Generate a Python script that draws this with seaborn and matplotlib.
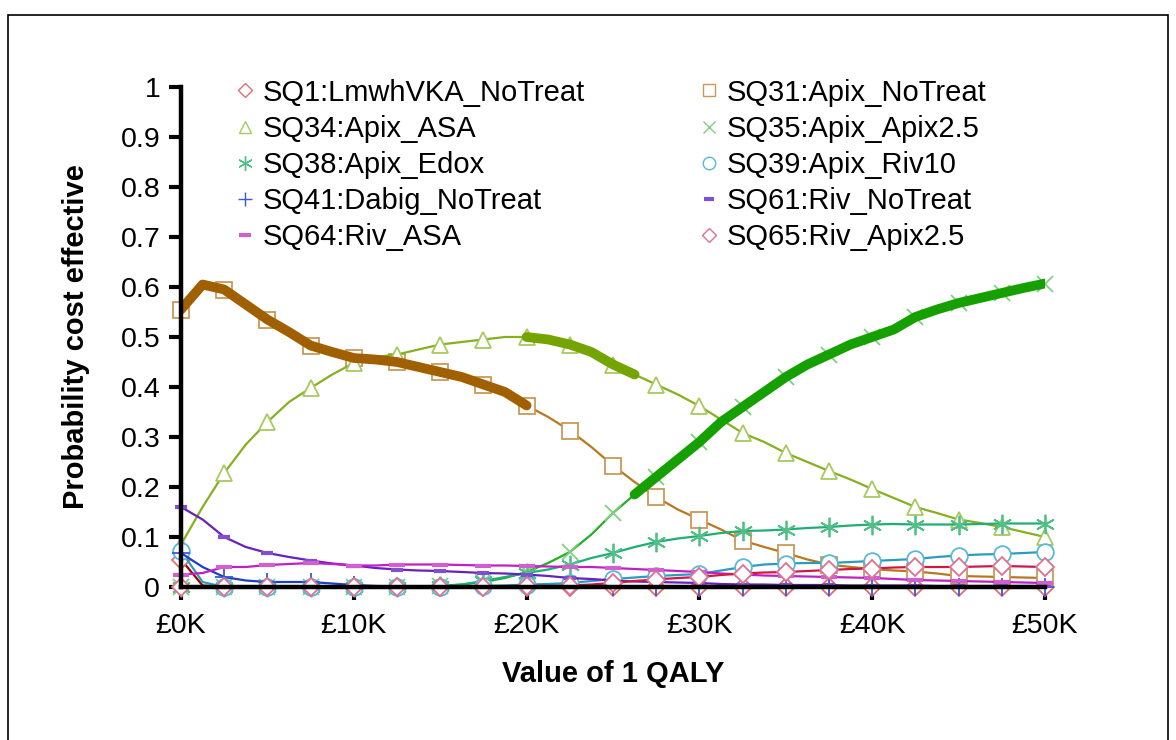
import numpy as np
import pandas as pd
import matplotlib
matplotlib.use("Agg")
import matplotlib.pyplot as plt
import matplotlib.patches as patches
from matplotlib.lines import Line2D
import seaborn as sns

# willingness-to-pay grid (in £K), 1.25K steps; markers drawn every 2.5K
wtp_k = [i * 1.25 for i in range(41)]

sq1 = [0.055, 0.003] + [0.0] * 39

sq31 = [0.555, 0.605, 0.595, 0.565, 0.535, 0.51, 0.483, 0.47, 0.458, 0.455,
        0.45, 0.44, 0.43, 0.42, 0.405, 0.39, 0.363, 0.34, 0.313, 0.28,
        0.243, 0.21, 0.18, 0.155, 0.135, 0.115, 0.093, 0.08, 0.068, 0.055,
        0.045, 0.04, 0.036, 0.033, 0.031, 0.027, 0.022, 0.021, 0.02, 0.019, 0.018]

sq34 = [0.085, 0.16, 0.228, 0.285, 0.33, 0.37, 0.398, 0.425, 0.448, 0.46,
        0.465, 0.475, 0.485, 0.49, 0.495, 0.5, 0.5, 0.495, 0.485, 0.47,
        0.445, 0.425, 0.405, 0.385, 0.362, 0.335, 0.308, 0.29, 0.268, 0.25,
        0.232, 0.215, 0.196, 0.178, 0.16, 0.148, 0.135, 0.128, 0.12, 0.11, 0.1]

sq35 = [0.0] * 11 + [0.001, 0.002, 0.005, 0.01, 0.018, 0.03, 0.048, 0.07,
        0.105, 0.148, 0.185, 0.22, 0.255, 0.29, 0.33, 0.36, 0.39, 0.42,
        0.445, 0.465, 0.485, 0.5, 0.515, 0.54, 0.555, 0.568, 0.578, 0.588,
        0.598, 0.607]

sq38 = [0.0] * 11 + [0.001, 0.002, 0.005, 0.012, 0.02, 0.028, 0.035, 0.045,
        0.058, 0.068, 0.08, 0.09, 0.097, 0.102, 0.108, 0.112, 0.113, 0.115,
        0.118, 0.12, 0.123, 0.125, 0.126, 0.125, 0.125, 0.125, 0.126, 0.127,
        0.127, 0.127]

sq39 = [0.072, 0.01] + [0.0] * 11 + [0.001, 0.002, 0.003, 0.005, 0.006,
        0.008, 0.012, 0.016, 0.019, 0.022, 0.024, 0.026, 0.033, 0.04, 0.045,
        0.047, 0.048, 0.048, 0.05, 0.052, 0.054, 0.056, 0.06, 0.063, 0.065,
        0.066, 0.068, 0.07]

sq41 = [0.068, 0.04, 0.02, 0.013, 0.01, 0.01, 0.01, 0.007, 0.004, 0.002,
        0.001] + [0.0] * 30

sq61 = [0.16, 0.135, 0.1, 0.08, 0.068, 0.06, 0.053, 0.047, 0.043, 0.038,
        0.035, 0.033, 0.032, 0.03, 0.028, 0.027, 0.025, 0.022, 0.018, 0.016,
        0.013, 0.011, 0.01, 0.009, 0.008, 0.006, 0.005, 0.005, 0.004, 0.004,
        0.004, 0.003, 0.003, 0.003, 0.003, 0.002, 0.002, 0.002, 0.002, 0.002,
        0.002]

sq64 = [0.025, 0.028, 0.04, 0.04, 0.044, 0.046, 0.048, 0.046, 0.043, 0.043,
        0.045, 0.045, 0.045, 0.044, 0.043, 0.043, 0.042, 0.041, 0.04, 0.04,
        0.038, 0.036, 0.034, 0.032, 0.03, 0.027, 0.025, 0.023, 0.022, 0.021,
        0.02, 0.019, 0.018, 0.016, 0.014, 0.013, 0.012, 0.011, 0.01, 0.009,
        0.008]

sq65 = [0.0] * 16 + [0.002, 0.002, 0.003, 0.005, 0.008, 0.012, 0.015, 0.018,
        0.02, 0.024, 0.027, 0.029, 0.03, 0.032, 0.034, 0.036, 0.037, 0.039,
        0.04, 0.04, 0.04, 0.041, 0.042, 0.041, 0.04]

# optimal strategy (frontier) by range of WTP, £K
frontier = [("SQ31:Apix_NoTreat", 0, 20), ("SQ34:Apix_ASA", 20, 26.25),
            ("SQ35:Apix_Apix2.5", 26.25, 50)]

# name, values, line colour, marker, marker colour, marker size
series = [
    ("SQ1:LmwhVKA_NoTreat", sq1, "#a00000", "D", "#e07070", 9),
    ("SQ31:Apix_NoTreat", sq31, "#b8781e", "s", "#c89a58", 11),
    ("SQ34:Apix_ASA", sq34, "#86b020", "^", "#a8c860", 12),
    ("SQ35:Apix_Apix2.5", sq35, "#22b022", "x", "#80d080", 11),
    ("SQ38:Apix_Edox", sq38, "#1fae74", (6, 2, 0), "#50c088", 14),
    ("SQ39:Apix_Riv10", sq39, "#2a9cc0", "o", "#5ab8d8", 12),
    ("SQ41:Dabig_NoTreat", sq41, "#1f3fc0", "+", "#3858e0", 13),
    ("SQ61:Riv_NoTreat", sq61, "#6a1fc0", "_", "#8050d0", 9),
    ("SQ64:Riv_ASA", sq64, "#c21fc2", "_", "#d060d0", 11),
    ("SQ65:Riv_Apix2.5", sq65, "#d01848", "D", "#e07090", 9),
]
thick_colors = {"SQ31:Apix_NoTreat": "#a06000",
                "SQ34:Apix_ASA": "#74a400",
                "SQ35:Apix_Apix2.5": "#15a000"}

sns.set_theme(style="white")
plt.rcParams["font.family"] = ["Liberation Sans", "DejaVu Sans"]
plt.rcParams["text.color"] = "black"
plt.rcParams["axes.labelcolor"] = "black"

fig = plt.figure(figsize=(11.76, 7.4), dpi=100)
ax = fig.add_axes([181 / 1176, 1 - 587 / 740, 864 / 1176, 500 / 740])

df = pd.DataFrame({"wtp": wtp_k})
for name, vals, lc, mk, mc, ms in series:
    df[name] = vals

for name, vals, lc, mk, mc, ms in series:
    mew = 3 if mk == "_" else 1.3
    sns.lineplot(data=df, x="wtp", y=name, ax=ax, color=lc, linewidth=1.6,
                 marker=mk, markevery=2, markersize=ms, markerfacecolor="white"
                 if mk not in ("_", "x", "+", (6, 2, 0)) else mc,
                 markeredgecolor=mc, markeredgewidth=mew, clip_on=False,
                 zorder=3)

# thick line for the strategy with highest expected net benefit
for name, x0, x1 in frontier:
    sub = df[(df["wtp"] >= x0) & (df["wtp"] <= x1)]
    sns.lineplot(data=sub, x="wtp", y=name, ax=ax, color=thick_colors[name],
                 linewidth=7, solid_capstyle="round", zorder=4)

ax.set_xlim(0, 50)
ax.set_ylim(0, 1)
ax.set_xticks([0, 10, 20, 30, 40, 50])
ax.set_xticklabels(["£0K", "£10K", "£20K", "£30K", "£40K", "£50K"])
ax.set_yticks(np.arange(0, 1.01, 0.1))
ax.set_yticklabels(["0", "0.1", "0.2", "0.3", "0.4", "0.5", "0.6", "0.7",
                    "0.8", "0.9", "1"])
ax.tick_params(axis="both", direction="out", length=9, width=3, color="black",
               labelsize=20.5, labelcolor="black")
ax.tick_params(axis="x", pad=10)
ax.tick_params(axis="y", pad=6)
ax.xaxis.set_ticks_position("bottom")
ax.yaxis.set_ticks_position("left")
for side in ["top", "right"]:
    ax.spines[side].set_visible(False)
for side in ["left", "bottom"]:
    ax.spines[side].set_color("black")
    ax.spines[side].set_linewidth(3.2)
    ax.spines[side].set_zorder(5)

ax.set_xlabel("Value of 1 QALY", fontsize=21, fontweight="bold", labelpad=15)
ax.set_ylabel("Probability cost effective", fontsize=21, fontweight="bold",
              labelpad=22)

# legend filled row-wise like the original
order = [0, 2, 4, 6, 8, 1, 3, 5, 7, 9]
handles = []
for i in order:
    name, vals, lc, mk, mc, ms = series[i]
    handles.append(Line2D([], [], linestyle="none", marker=mk, markersize=ms * 0.75,
                          markerfacecolor="white" if mk in ("D", "s", "^", "o") else mc,
                          markeredgecolor=mc,
                          markeredgewidth=3 if mk == "_" else 1.0, label=name))
leg = ax.legend(handles=handles, ncol=2, loc="upper left",
                bbox_to_anchor=(0.051, 1.04), frameon=False, fontsize=21,
                handlelength=0.6, handletextpad=0.3, columnspacing=3.95,
                labelspacing=0.28, borderaxespad=0, labelcolor="black")

fig.patches.append(patches.Rectangle((8 / 1176, -0.05), 1160 / 1176,
                                     1.05 - 15 / 740, transform=fig.transFigure,
                                     fill=False, edgecolor="black", linewidth=1.2))

fig.savefig("out.png", dpi=100)
